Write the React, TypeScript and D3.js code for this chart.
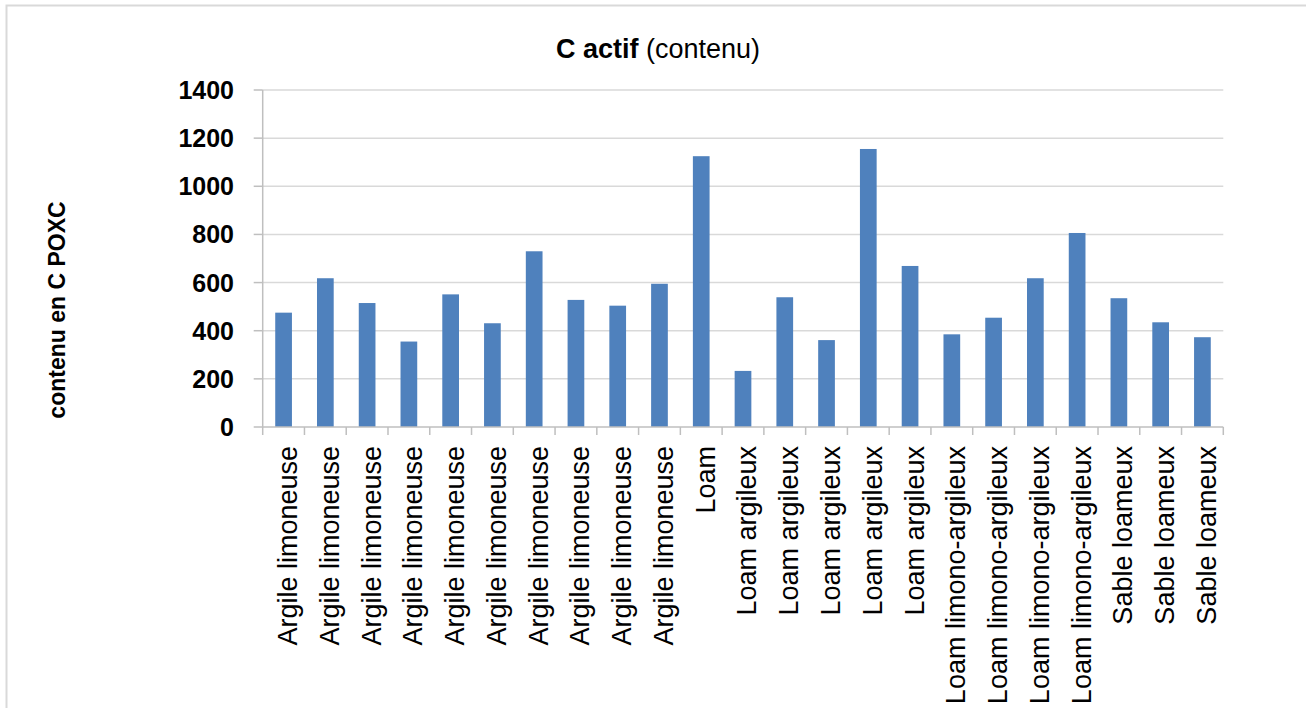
import React from "react";
import * as d3 from "d3";

const categories: string[] = [
  "Argile limoneuse", "Argile limoneuse", "Argile limoneuse", "Argile limoneuse", "Argile limoneuse",
  "Argile limoneuse", "Argile limoneuse", "Argile limoneuse", "Argile limoneuse", "Argile limoneuse",
  "Loam",
  "Loam argileux", "Loam argileux", "Loam argileux", "Loam argileux", "Loam argileux",
  "Loam limono-argileux", "Loam limono-argileux", "Loam limono-argileux", "Loam limono-argileux",
  "Sable loameux", "Sable loameux", "Sable loameux",
];
const values: number[] = [
  475, 618, 515, 355, 551, 431, 730, 528, 504, 595,
  1125,
  233, 539, 361, 1155, 669,
  385, 454, 618, 806,
  535, 435, 373,
];
const yTicks: number[] = [0, 200, 400, 600, 800, 1000, 1200, 1400];

const W = 1306;
const H = 708;
const left = 262.7;
const right = 1223.3;
const top = 90;
const bottom = 427;
const font = "'Liberation Sans', Arial, sans-serif";

export default function App() {
  const keys = categories.map((_, i) => String(i));
  const x = d3.scaleBand<string>().domain(keys).range([left, right]).paddingInner(0.6).paddingOuter(0.3);
  const y = d3.scaleLinear().domain([0, 1400]).range([bottom, top]);
  const boundaries = d3.range(categories.length + 1).map((i) => left + i * (right - left) / categories.length);

  return (
    <svg width={W} height={H} style={{ position: "absolute", left: 0, top: 0, background: "#fff" }}>
      <rect x={0} y={0} width={W} height={H} fill="#fff" />
      <path d={`M6.5,${H + 5} V5.5 H${W + 5}`} fill="none" stroke="#d9d9d9" strokeWidth={2} />
      <text x={658} y={58} textAnchor="middle" fontFamily={font} fontSize={27} fill="#000">
        <tspan fontWeight="bold">C actif</tspan>
        <tspan> (contenu)</tspan>
      </text>
      {yTicks.map((t) => (
        <g key={t}>
          {t > 0 && <line x1={left} x2={right} y1={y(t)} y2={y(t)} stroke="#d9d9d9" strokeWidth={1.5} />}
          <line x1={left - 9} x2={left} y1={y(t)} y2={y(t)} stroke="#bfbfbf" strokeWidth={1.5} />
          <text x={234} y={y(t)} dy="0.36em" textAnchor="end" fontFamily={font} fontWeight="bold" fontSize={25} fill="#000">
            {t}
          </text>
        </g>
      ))}
      {values.map((v, i) => (
        <rect key={i} x={x(String(i))} y={y(v)} width={x.bandwidth()} height={y(0) - y(v)} fill="#4f81bd" />
      ))}
      <line x1={left} x2={left} y1={top} y2={bottom} stroke="#bfbfbf" strokeWidth={1.5} />
      <line x1={left} x2={right} y1={bottom} y2={bottom} stroke="#bfbfbf" strokeWidth={1.5} />
      {boundaries.map((bx, i) => (
        <line key={i} x1={bx} x2={bx} y1={bottom} y2={bottom + 8} stroke="#bfbfbf" strokeWidth={1.5} />
      ))}
      {categories.map((c, i) => {
        const cx = (x(String(i)) as number) + x.bandwidth() / 2 + 4;
        return (
          <text key={i} transform={`translate(${cx},446) rotate(-90)`} dy="0.35em" textAnchor="end"
            fontFamily={font} fontSize={27} fill="#000">
            {c}
          </text>
        );
      })}
      <text transform={`translate(65,310) rotate(-90)`} textAnchor="middle" fontFamily={font}
        fontWeight="bold" fontSize={23} fill="#000">
        contenu en C POXC
      </text>
    </svg>
  );
}
